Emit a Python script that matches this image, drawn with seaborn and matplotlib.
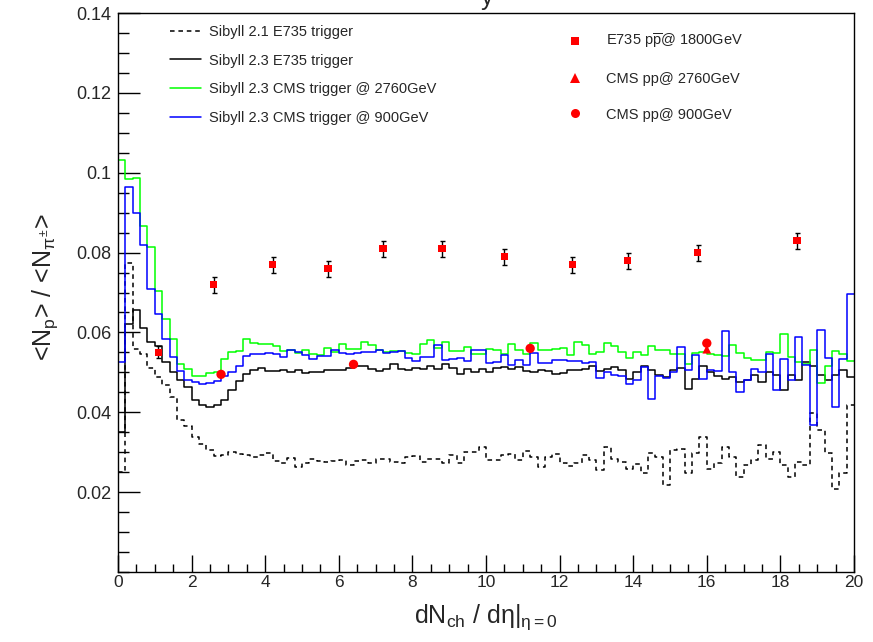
import numpy as np
import pandas as pd
import matplotlib
matplotlib.use("Agg")
import matplotlib.pyplot as plt
import seaborn as sns
from matplotlib.lines import Line2D
from matplotlib.ticker import MultipleLocator, FixedLocator, FixedFormatter

sns.set_style("ticks")
plt.rcParams['font.family'] = ['Liberation Sans', 'DejaVu Sans']
plt.rcParams['mathtext.fontset'] = 'custom'
plt.rcParams['mathtext.rm'] = 'Liberation Sans'
plt.rcParams['mathtext.it'] = 'Liberation Sans'
plt.rcParams['mathtext.bf'] = 'Liberation Sans:bold'

# ---------------- data ----------------
bin_edges = [round(0.2 * i, 2) for i in range(101)]          # 100 bins of width 0.2
bin_centers = [round(0.2 * i + 0.1, 2) for i in range(100)]

sibyll21_e735 = [
    0.025, 0.0775, 0.0559, 0.0545, 0.051, 0.0488, 0.0468, 0.0438, 0.038, 0.0365,
    0.0338, 0.032, 0.0305, 0.029, 0.0292, 0.03, 0.0295,
    0.0292, 0.0289, 0.0294, 0.0298, 0.0278, 0.0272, 0.0285, 0.0262, 0.0273, 0.0282,
    0.0278, 0.0275, 0.0278, 0.0281, 0.0268, 0.0278, 0.028,
    0.0273, 0.0282, 0.0284, 0.0275, 0.0272, 0.0287, 0.029, 0.0276, 0.0282, 0.0282,
    0.0273, 0.0293, 0.0272, 0.0301, 0.0301, 0.0313, 0.028,
    0.028, 0.0293, 0.0295, 0.028, 0.0304, 0.0288, 0.0263, 0.0288, 0.0295, 0.0272,
    0.0265, 0.0272, 0.0293, 0.028, 0.0255, 0.0313, 0.0284,
    0.0276, 0.0259, 0.027, 0.0247, 0.0297, 0.0288, 0.0218, 0.0305, 0.0309, 0.0247,
    0.0297, 0.0338, 0.0259, 0.0272, 0.0313, 0.0288, 0.0238,
    0.0268, 0.028, 0.0318, 0.0284, 0.0301, 0.0268, 0.0238, 0.0276, 0.0268, 0.0397,
    0.0355, 0.0297, 0.0209, 0.0247, 0.0418]

sibyll23_e735 = [
    0.035, 0.0622, 0.0655, 0.061, 0.0576, 0.0565, 0.0526, 0.0501, 0.048, 0.0463,
    0.043, 0.0418, 0.0413, 0.0418, 0.0432, 0.0455, 0.0478,
    0.0495, 0.0505, 0.051, 0.0503, 0.0504, 0.0506, 0.0502, 0.0505, 0.0499, 0.05,
    0.0502, 0.0505, 0.0507, 0.0505, 0.0512, 0.0515, 0.0517,
    0.0509, 0.0503, 0.0509, 0.0522, 0.0509, 0.0507, 0.0511, 0.0509, 0.0516, 0.0509,
    0.052, 0.0511, 0.0495, 0.0509, 0.0501, 0.0509, 0.0501,
    0.0511, 0.0513, 0.0509, 0.0513, 0.0503, 0.05, 0.0507, 0.0503, 0.0497, 0.0498,
    0.0507, 0.0505, 0.0509, 0.0516, 0.0503, 0.0509, 0.0513,
    0.0505, 0.0484, 0.0501, 0.0515, 0.0505, 0.0493, 0.0488, 0.0505, 0.0511, 0.0459,
    0.0484, 0.0515, 0.0501, 0.049, 0.0484, 0.0488, 0.0476,
    0.0482, 0.0493, 0.0476, 0.0501, 0.0493, 0.0455, 0.0493, 0.048, 0.0526, 0.0515,
    0.0493, 0.048, 0.0493, 0.0505, 0.0488]

sibyll23_cms2760 = [
    0.1032, 0.0984, 0.0986, 0.0867, 0.0814, 0.0704, 0.0634, 0.0584, 0.0522, 0.0508,
    0.0492, 0.049, 0.0498, 0.0502, 0.0533, 0.055, 0.0553,
    0.0583, 0.0573, 0.057, 0.057, 0.0566, 0.0553, 0.0555, 0.0548, 0.0555, 0.0547,
    0.0543, 0.0561, 0.0552, 0.0572, 0.0559, 0.0559, 0.0576,
    0.0568, 0.0557, 0.0551, 0.0553, 0.0553, 0.0549, 0.0547, 0.0572, 0.0582, 0.0561,
    0.0576, 0.0553, 0.0553, 0.0563, 0.0547, 0.0547, 0.0558,
    0.0557, 0.0547, 0.0572, 0.0555, 0.0545, 0.0574, 0.0555, 0.0555, 0.0558, 0.0561,
    0.0543, 0.0575, 0.0569, 0.0547, 0.0551, 0.0573, 0.0565,
    0.0551, 0.0537, 0.0551, 0.0543, 0.0565, 0.0555, 0.0557, 0.0545, 0.0545, 0.0522,
    0.0549, 0.0551, 0.0547, 0.0544, 0.0541, 0.0569, 0.0548,
    0.0537, 0.053, 0.053, 0.0551, 0.0549, 0.0597, 0.0538, 0.0526, 0.0522, 0.0557,
    0.0473, 0.0517, 0.0553, 0.0547, 0.0528]

sibyll23_cms900 = [
    0.0525, 0.0963, 0.0899, 0.0819, 0.0708, 0.0647, 0.0584, 0.0538, 0.0503, 0.048,
    0.0475, 0.0472, 0.0473, 0.0478, 0.049, 0.050, 0.0515,
    0.0542, 0.0547, 0.0547, 0.0549, 0.0547, 0.0538, 0.0555, 0.0551, 0.0544, 0.0534,
    0.0541, 0.0541, 0.0555, 0.0548, 0.0547, 0.0549, 0.0551,
    0.0551, 0.0557, 0.0548, 0.0551, 0.0553, 0.0537, 0.0528, 0.0538, 0.0538, 0.0568,
    0.0532, 0.0534, 0.0536, 0.0528, 0.0555, 0.0557, 0.0523,
    0.0526, 0.0543, 0.0518, 0.053, 0.0518, 0.0549, 0.0523, 0.0523, 0.0532, 0.053,
    0.0528, 0.0528, 0.0523, 0.0526, 0.0486, 0.0501, 0.0493,
    0.049, 0.0472, 0.048, 0.0513, 0.0434, 0.049, 0.0487, 0.0501, 0.0563, 0.0505,
    0.0543, 0.0484, 0.0505, 0.0503, 0.0603, 0.0501, 0.0451,
    0.048, 0.0509, 0.0501, 0.0547, 0.0455, 0.0534, 0.048, 0.0588, 0.0519, 0.0368,
    0.0605, 0.0536, 0.0413, 0.0533, 0.0695]

e735_x = [1.1, 2.6, 4.2, 5.7, 7.2, 8.8, 10.5, 12.35, 13.85, 15.75, 18.45]
e735_y = [0.055, 0.072, 0.077, 0.076, 0.081, 0.081, 0.079, 0.077, 0.078, 0.080, 0.083]
e735_err = [0.0015, 0.002, 0.002, 0.002, 0.002, 0.002, 0.002, 0.002, 0.002, 0.002, 0.002]

cms2760_x = [16.0]
cms2760_y = [0.0558]

cms900_x = [2.8, 6.4, 11.2, 16.0]
cms900_y = [0.0495, 0.052, 0.056, 0.0573]

y_tick_values = [0.02, 0.04, 0.06, 0.08, 0.10, 0.12, 0.14]
y_tick_labels = ["0.02", "0.04", "0.06", "0.08", "0.1", "0.12", "0.14"]

legend_left = ["Sibyll 2.1 E735 trigger", "Sibyll 2.3 E735 trigger",
               "Sibyll 2.3 CMS trigger @ 2760GeV", "Sibyll 2.3 CMS trigger @ 900GeV"]
legend_right = [r"E735 p$\overline{\mathrm{p}}$@ 1800GeV", "CMS pp@ 2760GeV", "CMS pp@ 900GeV"]

# ---------------- figure ----------------
W, H = 873, 642
fig = plt.figure(figsize=(W / 100, H / 100), dpi=100)
ax = fig.add_axes([118 / W, 1 - 572 / H, (854 - 118) / W, (572 - 13) / H])

hist_specs = [
    (sibyll21_e735, "black", (0, (3, 2.5))),
    (sibyll23_e735, "black", "-"),
    (sibyll23_cms2760, "#00ff00", "-"),
    (sibyll23_cms900, "#0000ff", "-"),
]
for vals, col, ls in hist_specs:
    df = pd.DataFrame({"x": bin_centers, "w": vals})
    sns.histplot(data=df, x="x", weights="w", bins=bin_edges, element="step",
                 fill=False, color=col, linestyle=ls, linewidth=1.1, ax=ax)

ax.errorbar(e735_x, e735_y, yerr=e735_err, fmt="none", ecolor="black",
            elinewidth=1.0, capsize=1.8, capthick=1.0, zorder=4)
sns.scatterplot(x=e735_x, y=e735_y, marker="s", color="red", s=30,
                edgecolor="none", ax=ax, zorder=5)
sns.scatterplot(x=cms2760_x, y=cms2760_y, marker="^", color="red", s=40,
                edgecolor="none", ax=ax, zorder=5)
sns.scatterplot(x=cms900_x, y=cms900_y, marker="o", color="red", s=45,
                edgecolor="none", ax=ax, zorder=6)

ax.set_xlim(0, 20)
ax.set_ylim(0, 0.14)
ax.set_xlabel("")
ax.set_ylabel("")

ax.xaxis.set_major_locator(MultipleLocator(2))
ax.xaxis.set_minor_locator(MultipleLocator(0.5))
ax.yaxis.set_major_locator(FixedLocator(y_tick_values))
ax.yaxis.set_major_formatter(FixedFormatter(y_tick_labels))
ax.yaxis.set_minor_locator(MultipleLocator(0.005))

ax.tick_params(axis="both", which="both", direction="in", top=False, right=False,
               width=1.0, color="black")
ax.tick_params(axis="y", which="major", length=15.8, pad=4.5, labelsize=13)
ax.tick_params(axis="y", which="minor", length=7.9)
ax.tick_params(axis="x", which="major", length=12.2, pad=2.5, labelsize=12.5)
ax.tick_params(axis="x", which="minor", length=5.8)
for sp in ax.spines.values():
    sp.set_color("black")
    sp.set_linewidth(1.0)
    sp.set_visible(True)

# legends
left_handles = [Line2D([], [], color=c, linestyle=ls, linewidth=1.1)
                for _, c, ls in hist_specs]
leg1 = fig.legend(left_handles, legend_left, loc="upper left",
                  bbox_to_anchor=(170 / W, 1 - 25 / H), frameon=False, fontsize=10.5,
                  handlelength=2.15, handletextpad=0.55, labelspacing=1.0,
                  borderpad=0, borderaxespad=0)

right_handles = [
    Line2D([], [], marker="s", color="red", linestyle="none", markersize=5.5, markeredgewidth=0),
    Line2D([], [], marker="^", color="red", linestyle="none", markersize=6.5, markeredgewidth=0),
    Line2D([], [], marker="o", color="red", linestyle="none", markersize=6.5, markeredgewidth=0),
]
leg2 = fig.legend(right_handles, legend_right, loc="upper left",
                  bbox_to_anchor=(568 / W, 1 - 32 / H), frameon=False, fontsize=10.5,
                  handlelength=1.0, handletextpad=1.6, labelspacing=1.45,
                  borderpad=0, borderaxespad=0)

# axis titles
fig.text(486 / W, 1 - 623 / H, r"dN$_{\mathrm{ch}}$ / d$\eta$|$_{\eta=0}$",
         fontsize=18, ha="center", va="baseline")
fig.text(45 / W, 1 - 287 / H, r"<N$_{\mathrm{p}}$> / <N$_{\pi^{\pm}}$>",
         fontsize=18, rotation=90, ha="center", va="center")

# cut-off title fragment at the top
fig.text(487 / W, 1 - 5 / H, "y", fontsize=18, ha="center", va="baseline")

fig.savefig("out.png", dpi=100, facecolor="white")
